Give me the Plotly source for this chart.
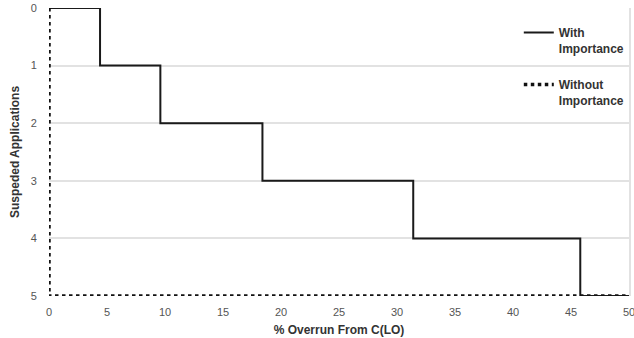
import plotly.graph_objects as go

# Data
with_x = [0, 4.4, 9.6, 18.4, 31.4, 45.8, 50]
with_y = [0, 1, 2, 3, 4, 5, 5]
without_x = [0, 0, 50]
without_y = [0, 5, 5]
x_ticks = [0, 5, 10, 15, 20, 25, 30, 35, 40, 45, 50]
y_ticks = [0, 1, 2, 3, 4, 5]

fig = go.Figure()
fig.add_trace(go.Scatter(
    x=with_x, y=with_y, mode="lines", line_shape="hv",
    line=dict(color="#1a1a1a", width=2),
    name="<b>With<br>Importance</b>", legendgroup="a", cliponaxis=False))
fig.add_trace(go.Scatter(
    x=without_x, y=without_y, mode="lines",
    line=dict(color="#111111", width=3.5, dash="dot"),
    name="<b>Without<br>Importance</b>", legendgroup="b", cliponaxis=False))
fig.add_trace(go.Scatter(x=[None], y=[None], yaxis="y2", showlegend=False,
                         hoverinfo="skip"))

font_fam = "Liberation Sans, Arial, sans-serif"
tickfont = dict(family=font_fam, size=11, color="#555555")
fig.update_layout(
    template="none",
    width=634, height=338,
    margin=dict(l=49, r=5, t=8, b=42, autoexpand=False),
    paper_bgcolor="white", plot_bgcolor="white",
    font=dict(family=font_fam, size=11, color="#555555"),
    xaxis=dict(range=[0, 50], tickvals=x_ticks, showgrid=False, zeroline=False,
               showline=False, ticks="outside", ticklen=6, tickcolor="rgba(0,0,0,0)",
               automargin=False, tickfont=tickfont, ticklabeloverflow="allow",
               title=dict(text="<b>% Overrun From C(LO)</b>",
                          font=dict(size=12, color="#333333"), standoff=8)),
    yaxis=dict(range=[5, 0], tickvals=y_ticks, showgrid=True,
               gridcolor="#e2e2e2", gridwidth=1.5, zeroline=False, showline=False,
               ticks="outside", ticklen=9, tickcolor="rgba(0,0,0,0)",
               automargin=False, tickfont=tickfont,
               title=dict(text="<b>Suspeded Applications</b>",
                          font=dict(size=12, color="#333333"), standoff=8)),
    yaxis2=dict(overlaying="y", side="right", range=[5, 0], showline=True,
                linecolor="#e2e2e2", linewidth=1.5, showgrid=False,
                showticklabels=False, ticks="", zeroline=False, automargin=False),
    showlegend=True,
    legend=dict(x=0.81, y=0.965, xanchor="left", yanchor="top",
                bgcolor="rgba(0,0,0,0)", valign="top", tracegroupgap=18,
                font=dict(size=12, color="#333333", family=font_fam),
                itemwidth=30),
)

fig.write_html("out.html", config={"displayModeBar": False})
with open("out.html", encoding="utf-8") as f:
    html = f.read()
html = html.replace("<body>", '<body style="margin:0;overflow:hidden">', 1)
with open("out.html", "w", encoding="utf-8") as f:
    f.write(html)
